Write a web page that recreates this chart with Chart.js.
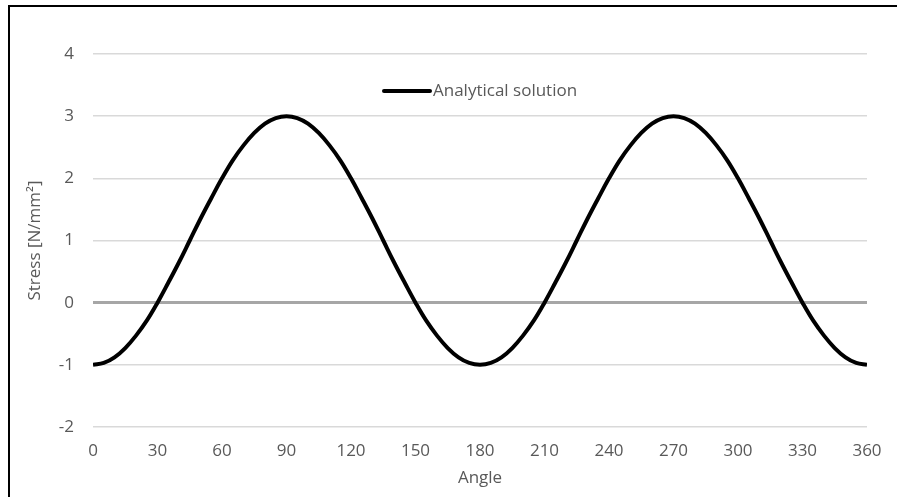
<!DOCTYPE html>
<html>
<head>
<meta charset="utf-8">
<script src="https://cdn.jsdelivr.net/npm/chart.js@4"></script>
<style>
    html, body { margin: 0; padding: 0; background: #fff; }
    #wrap { position: relative; width: 897px; height: 497px; overflow: hidden; }
    #frame { position: absolute; left: 8px; top: 5px; right: 0; bottom: 0; border-top: 2px solid #000; border-left: 2px solid #000; pointer-events: none; }
</style>
</head>
<body>
<div id="wrap">
    <canvas id="stressChart" width="897" height="497"></canvas>
    <div id="frame"></div>
</div>
<script>
// angle in degrees, stress
const angles = [0, 5, 10, 15, 20, 25, 30, 35, 40, 45, 50, 55, 60, 65, 70, 75, 80, 85, 90,
    95, 100, 105, 110, 115, 120, 125, 130, 135, 140, 145, 150, 155, 160, 165, 170, 175, 180,
    185, 190, 195, 200, 205, 210, 215, 220, 225, 230, 235, 240, 245, 250, 255, 260, 265, 270,
    275, 280, 285, 290, 295, 300, 305, 310, 315, 320, 325, 330, 335, 340, 345, 350, 355, 360];
const stress = [-1, -0.97, -0.88, -0.73, -0.53, -0.29, 0, 0.32, 0.65, 1, 1.35, 1.68, 2, 2.29, 2.53, 2.73, 2.88, 2.97, 3,
    2.97, 2.88, 2.73, 2.53, 2.29, 2, 1.68, 1.35, 1, 0.65, 0.32, 0, -0.29, -0.53, -0.73, -0.88, -0.97, -1,
    -0.97, -0.88, -0.73, -0.53, -0.29, 0, 0.32, 0.65, 1, 1.35, 1.68, 2, 2.29, 2.53, 2.73, 2.88, 2.97, 3,
    2.97, 2.88, 2.73, 2.53, 2.29, 2, 1.68, 1.35, 1, 0.65, 0.32, 0, -0.29, -0.53, -0.73, -0.88, -0.97, -1];
const xTicks = [0, 30, 60, 90, 120, 150, 180, 210, 240, 270, 300, 330, 360];
const yTicks = [-2, -1, 0, 1, 2, 3, 4];
const seriesName = 'Analytical solution';

const textColor = '#595959';
const fontFamily = "'Open Sans', 'Liberation Sans', sans-serif";
const fontSize = 17;

// legend sits inside the plot area like Excel does it
const innerLegend = {
    id: 'innerLegend',
    afterDatasetsDraw(chart) {
        const ctx = chart.ctx;
        const y = 91;
        ctx.save();
        ctx.strokeStyle = '#000';
        ctx.lineWidth = 4;
        ctx.lineCap = 'round';
        ctx.beginPath();
        ctx.moveTo(384, y);
        ctx.lineTo(430, y);
        ctx.stroke();
        ctx.fillStyle = textColor;
        ctx.font = fontSize + 'px ' + fontFamily;
        ctx.textBaseline = 'middle';
        ctx.fillText(seriesName, 433, y);
        ctx.restore();
    }
};

new Chart(document.getElementById('stressChart'), {
    type: 'line',
    data: {
        datasets: [{
            label: seriesName,
            data: angles.map((a, i) => ({ x: a, y: stress[i] })),
            borderColor: '#000',
            borderWidth: 4,
            pointRadius: 0,
            fill: false,
            tension: 0.4
        }]
    },
    options: {
        responsive: false,
        animation: false,
        layout: { padding: { left: 0, right: 30, top: 54, bottom: 0 } },
        plugins: {
            legend: { display: false },
            tooltip: { enabled: false }
        },
        scales: {
            x: {
                type: 'linear',
                min: 0,
                max: 360,
                afterBuildTicks: s => { s.ticks = xTicks.map(v => ({ value: v })); },
                afterFit: s => { s.height = 70; },
                grid: { display: false },
                border: { display: false },
                ticks: { color: textColor, padding: 6, maxRotation: 0, font: { family: fontFamily, size: fontSize } },
                title: {
                    display: true,
                    text: 'Angle',
                    color: textColor,
                    padding: { top: 0, bottom: 9 },
                    font: { family: fontFamily, size: fontSize }
                }
            },
            y: {
                min: -2,
                max: 4,
                afterBuildTicks: s => { s.ticks = yTicks.map(v => ({ value: v })); },
                afterFit: s => { s.width = 93; },
                grid: {
                    drawTicks: false,
                    color: ctx => ctx.tick && ctx.tick.value === 0 ? '#a6a6a6' : '#d9d9d9',
                    lineWidth: ctx => ctx.tick && ctx.tick.value === 0 ? 3 : 1.5
                },
                border: { display: false },
                ticks: { color: textColor, padding: 19, font: { family: fontFamily, size: fontSize } },
                title: {
                    display: true,
                    text: 'Stress [N/mm²]',
                    color: textColor,
                    padding: { top: 25, bottom: 0 },
                    font: { family: fontFamily, size: fontSize }
                }
            }
        }
    },
    plugins: [innerLegend]
});
</script>
</body>
</html>
